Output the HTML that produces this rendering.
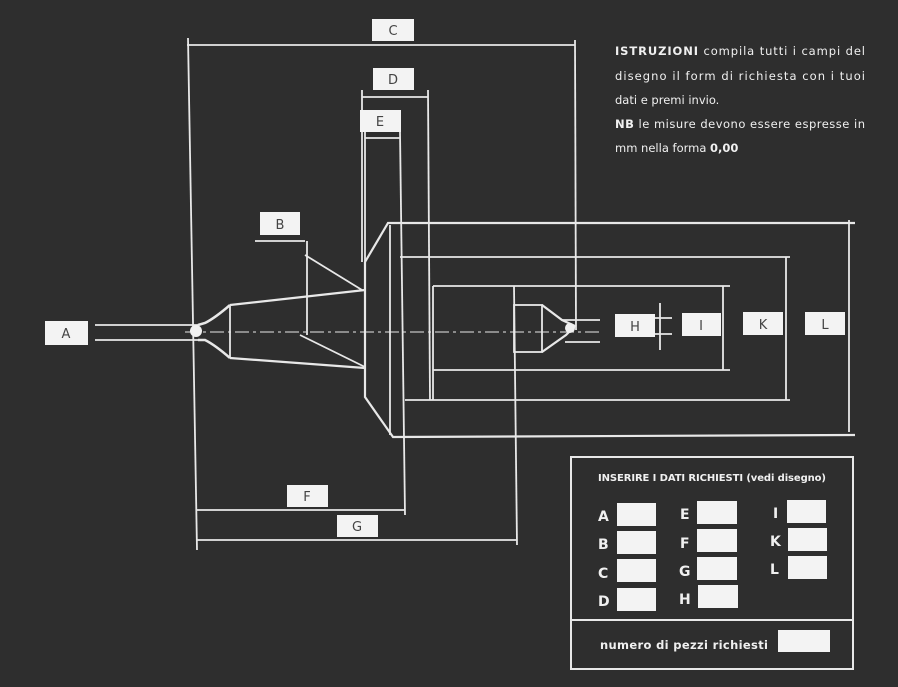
<!DOCTYPE html>
<html><head><meta charset="utf-8"><style>
html,body{margin:0;padding:0;background:#2e2e2e;}
svg{display:block}
text{font-family:"DejaVu Sans","Liberation Sans",sans-serif;}
</style></head><body>
<svg width="898" height="687" viewBox="0 0 898 687" xmlns="http://www.w3.org/2000/svg">
<rect width="898" height="687" fill="#2e2e2e"/>
<g stroke="#e8e8e8" stroke-width="1.8" fill="none">
<line x1="188" y1="38" x2="197" y2="550"/>
<line x1="187" y1="45" x2="575" y2="45"/>
<line x1="575" y1="40" x2="576" y2="330"/>
<line x1="362" y1="90" x2="362" y2="262"/>
<line x1="428" y1="90" x2="430" y2="400"/>
<line x1="362" y1="97" x2="428" y2="97"/>
<line x1="365" y1="132" x2="365" y2="262"/>
<line x1="400" y1="132" x2="405" y2="515"/>
<line x1="365" y1="138" x2="400" y2="138"/>
<line x1="197" y1="510" x2="405" y2="510"/>
<line x1="197" y1="540" x2="517" y2="540"/>
<line x1="514" y1="286" x2="517" y2="545"/>
<line x1="95" y1="325" x2="198" y2="325"/>
<line x1="95" y1="340" x2="198" y2="340"/>
<line x1="255" y1="241" x2="305" y2="241"/>
<line x1="307" y1="241" x2="307" y2="335"/>
<line x1="305" y1="255" x2="362" y2="290"/>
<line x1="300" y1="335" x2="365" y2="367"/>
<path d="M365 262 L388 223 L855 223" stroke-width="2.2"/>
<path d="M365 262 L365 397 L393 437 L855 435" stroke-width="2.2"/>
<line x1="390" y1="225" x2="390" y2="435"/>
<line x1="400" y1="257" x2="790" y2="257"/>
<line x1="405" y1="400" x2="790" y2="400"/>
<line x1="433" y1="286" x2="730" y2="286"/>
<line x1="433" y1="370" x2="730" y2="370"/>
<line x1="433" y1="286" x2="433" y2="400"/>
<rect x="514" y="305" width="28" height="47"/>
<path d="M542 305 L562 320 L575 326 L566 335 L542 352" stroke-width="2.2"/>
<line x1="562" y1="320" x2="600" y2="320"/>
<line x1="565" y1="342" x2="600" y2="342"/>
<line x1="230" y1="305" x2="365" y2="290" stroke-width="2.2"/>
<line x1="230" y1="358" x2="365" y2="368" stroke-width="2.2"/>
<line x1="230" y1="305" x2="230" y2="358"/>
<path d="M230 305 Q215 318 205 323 L198 325" stroke-width="2.5"/>
<path d="M230 358 Q215 345 205 340 L198 340" stroke-width="2.5"/>
<line x1="185" y1="332" x2="600" y2="332" stroke-width="1" stroke-dasharray="14,4,3,4"/>
<line x1="660" y1="303" x2="660" y2="350"/>
<line x1="655" y1="318" x2="672" y2="318"/>
<line x1="655" y1="334" x2="672" y2="334"/>
<line x1="723" y1="286" x2="723" y2="370"/>
<line x1="786" y1="257" x2="786" y2="400"/>
<line x1="849" y1="220" x2="849" y2="432"/>
</g>
<circle cx="196" cy="331" r="6" fill="#f0f0f0"/>
<circle cx="570" cy="328" r="5" fill="#f0f0f0"/>
<g fill="#f3f3f3">
<rect x="45" y="321" width="43" height="24"/>
<rect x="260" y="212" width="40" height="23"/>
<rect x="372" y="19" width="42" height="22"/>
<rect x="373" y="68" width="41" height="22"/>
<rect x="360" y="110" width="41" height="22"/>
<rect x="287" y="485" width="41" height="22"/>
<rect x="337" y="515" width="41" height="22"/>
<rect x="615" y="314" width="40" height="23"/>
<rect x="682" y="313" width="39" height="23"/>
<rect x="743" y="312" width="40" height="23"/>
<rect x="805" y="312" width="40" height="23"/>
</g>
<g font-size="13" fill="#444" text-anchor="middle">
<text x="66" y="338">A</text><text x="280" y="229">B</text>
<text x="393" y="35">C</text><text x="393" y="84">D</text>
<text x="380" y="126">E</text><text x="307" y="501">F</text>
<text x="357" y="531">G</text><text x="635" y="331">H</text>
<text x="701" y="330">I</text><text x="763" y="329">K</text>
<text x="825" y="329">L</text>
</g>
<g font-size="11.5" fill="#f0f0f0">
<text x="615" y="55" textLength="250"><tspan font-weight="bold">ISTRUZIONI</tspan> compila tutti i campi del</text>
<text x="615" y="80" textLength="250">disegno  il form di richiesta con i tuoi</text>
<text x="615" y="104">dati e premi invio.</text>
<text x="615" y="128" textLength="250"><tspan font-weight="bold">NB</tspan> le misure devono essere espresse in</text>
<text x="615" y="152">mm nella forma <tspan font-weight="bold">0,00</tspan></text>
</g>
<rect x="571" y="457" width="282" height="212" fill="none" stroke="#e8e8e8" stroke-width="2"/>
<line x1="571" y1="620" x2="853" y2="620" stroke="#e8e8e8" stroke-width="2"/>
<text x="598" y="481" font-size="10" font-weight="bold" fill="#f0f0f0" textLength="228">INSERIRE I DATI RICHIESTI (vedi disegno)</text>
<g fill="#f3f3f3">
<rect x="617" y="503" width="39" height="23"/><rect x="617" y="531" width="39" height="23"/>
<rect x="617" y="559" width="39" height="23"/><rect x="617" y="588" width="39" height="23"/>
<rect x="697" y="501" width="40" height="23"/><rect x="697" y="529" width="40" height="23"/>
<rect x="697" y="557" width="40" height="23"/><rect x="698" y="585" width="40" height="23"/>
<rect x="787" y="500" width="39" height="23"/><rect x="788" y="528" width="39" height="23"/>
<rect x="788" y="556" width="39" height="23"/>
<rect x="778" y="630" width="52" height="22"/>
</g>
<g font-size="14" font-weight="bold" fill="#f0f0f0">
<text x="598" y="521">A</text><text x="598" y="549">B</text>
<text x="598" y="578">C</text><text x="598" y="606">D</text>
<text x="680" y="519">E</text><text x="680" y="548">F</text>
<text x="679" y="576">G</text><text x="679" y="604">H</text>
<text x="773" y="518">I</text><text x="770" y="546">K</text>
<text x="770" y="574">L</text>
</g>
<text x="600" y="649" font-size="11.5" font-weight="bold" fill="#f0f0f0" textLength="168">numero di pezzi richiesti</text>
</svg>
</body></html>
